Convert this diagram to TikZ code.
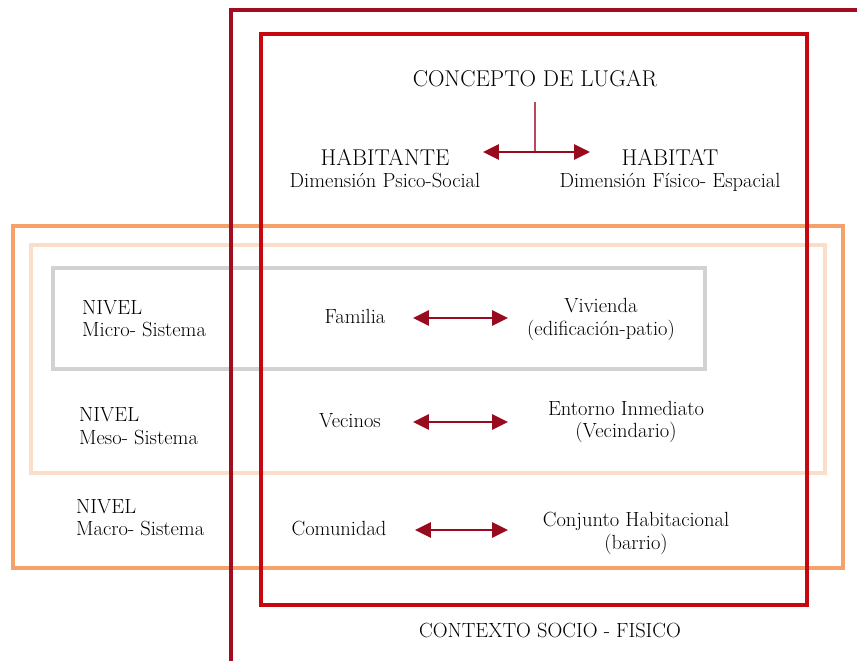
\documentclass[tikz,border=0pt]{standalone}
\usepackage{tikz}
\usetikzlibrary{arrows.meta, positioning}
\definecolor{frameRed}{RGB}{162,12,32}
\definecolor{boxRed}{RGB}{196,8,14}
\definecolor{arrowRed}{RGB}{152,10,30}
\definecolor{stemRed}{RGB}{184,74,92}
\definecolor{macroOrange}{RGB}{244,162,106}
\definecolor{mesoPeach}{RGB}{250,222,202}
\definecolor{microGray}{RGB}{210,210,210}

\begin{document}
\begin{tikzpicture}[
    x=0.03cm, y=-0.03cm,
    bigtext/.style={font=\fontsize{19.5}{22}\selectfont, inner sep=0pt, anchor=base},
    smalltext/.style={font=\fontsize{17.5}{19.2}\selectfont, inner sep=0pt},
    pairtext/.style={smalltext, align=center},
    niveltext/.style={smalltext, align=left, anchor=west},
    levelbox/.style={line width=2.8pt},
    contextbox/.style={line width=3.4pt},
    arrow/.style={<->, >={Triangle[length=13.5pt,width=13pt]}, line width=1.5pt, arrowRed},
    stem/.style={line width=1pt, stemRed}
]
\useasboundingbox (0,0) rectangle (857,660);

% Levels (macro, meso, micro)
\draw[levelbox, macroOrange] (13,226) rectangle (843,568);
\draw[levelbox, mesoPeach] (31,245) rectangle (825,473);
\draw[levelbox, microGray] (53,268) rectangle (705,369);

% Context frames
\draw[contextbox, frameRed] (231,664) |- (861,10);
\draw[contextbox, boxRed] (261,34) rectangle (807,605);

% Concept of place
\node[bigtext] (concepto) at (535,86) {CONCEPTO DE LUGAR};
\node[bigtext] (habitante) at (385,165) {HABITANTE};
\node[smalltext, anchor=base] (psico) at (385,187) {Dimensión Psico-Social};
\node[bigtext] (habitat) at (670,165) {HABITAT};
\node[smalltext, anchor=base] (fisico) at (670,187) {Dimensión Físico- Espacial};

\coordinate (stemTop) at (535,102);
\coordinate (fork) at (535,152);
\coordinate (habL) at (483,152);
\coordinate (habR) at (590,152);

% Levels
\node[niveltext] (micro) at (82,318.5) {NIVEL\\Micro- Sistema};
\node[niveltext] (meso) at (79,426) {NIVEL\\Meso- Sistema};
\node[niveltext] (macro) at (76,517.5) {NIVEL\\Macro- Sistema};

\node[smalltext, anchor=base] (familia) at (355,323) {Familia};
\node[smalltext, anchor=base] (vecinos) at (350,427) {Vecinos};
\node[smalltext, anchor=base] (comunidad) at (339,535) {Comunidad};

\node[pairtext] (vivienda) at (601,319.5) {Vivienda\\(edificación-patio)};
\node[pairtext] (entorno) at (626,422) {Entorno Inmediato\\(Vecindario)};
\node[pairtext] (conjunto) at (636,533.5) {Conjunto Habitacional\\(barrio)};

\coordinate (famL) at (413,318);
\coordinate (famR) at (508,318);
\coordinate (vecL) at (413,422);
\coordinate (vecR) at (508,422);
\coordinate (comL) at (415,530);
\coordinate (comR) at (508,530);

\node[smalltext, anchor=base] (contexto) at (550,637) {CONTEXTO SOCIO - FISICO};

\draw[stem] (stemTop) -- (fork);
\draw[arrow] (habL) -- (habR);
\draw[arrow] (famL) -- (famR);
\draw[arrow] (vecL) -- (vecR);
\draw[arrow] (comL) -- (comR);

\end{tikzpicture}
\end{document}
